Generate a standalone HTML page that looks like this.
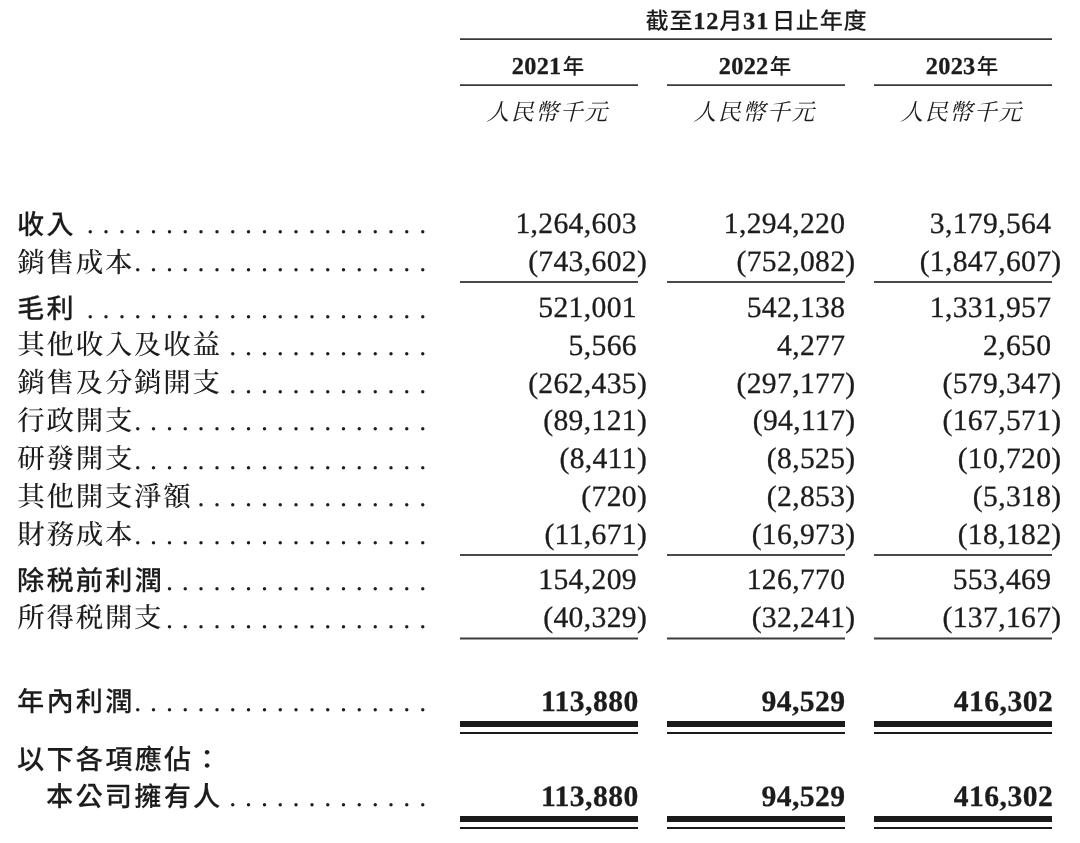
<!DOCTYPE html>
<html lang="zh-Hant">
<head>
<meta charset="utf-8">
<title>綜合損益表</title>
<style>
html,body{margin:0;padding:0;background:#fff;}
body{width:1080px;height:843px;position:relative;overflow:hidden;color:#1c1c1c;font-family:"Liberation Serif","Noto Serif CJK SC",serif;text-rendering:geometricPrecision;}
.t{position:absolute;white-space:nowrap;line-height:1;margin:0;padding:0;}
.lab{font-family:"Liberation Serif","Noto Serif CJK SC",serif;font-size:27.5px;letter-spacing:1.7px;font-weight:500;}
.bl{font-family:"Liberation Sans","Noto Sans CJK TC",sans-serif;font-size:27.2px;letter-spacing:2.2px;font-weight:500;-webkit-text-stroke:0.1px #1c1c1c;}
.num{font-family:"Liberation Serif",serif;font-size:29.6px;letter-spacing:0.35px;text-align:right;-webkit-text-stroke:0.3px #1c1c1c;}
.nb{font-family:"Liberation Serif",serif;font-weight:700;font-size:29.6px;letter-spacing:0.45px;text-align:right;-webkit-text-stroke:0.3px #1c1c1c;}
.dots{font-family:"Liberation Serif",serif;font-size:28px;letter-spacing:8.83px;}
.hr{position:absolute;height:2px;background:linear-gradient(to bottom,#6a6a6a 0,#6a6a6a 1px,#383838 1px,#383838 2px);}
.hr.e{background:#494949;}
.hr.s{height:3px;background:linear-gradient(to bottom,#9a9a9a 0,#9a9a9a 1px,#3c3c3c 1px,#3c3c3c 2px,#a0a0a0 2px,#a0a0a0 3px);}
.dr{position:absolute;background:#1a1a1a;}
.hd{font-family:"Liberation Serif","Noto Sans CJK TC",sans-serif;font-weight:700;-webkit-text-stroke:0.3px #1c1c1c;}
.hd .c,.hd .c1{font-family:"Noto Sans CJK TC",sans-serif;font-weight:500;font-size:21.5px;letter-spacing:2.0px;-webkit-text-stroke:0;margin-left:1.2px;}
.hd .c1{margin-left:0;font-size:23.2px;letter-spacing:0.6px;position:relative;top:0.5px;}
.hd .g{margin-right:2.9px;}
.unit{font-family:"Liberation Serif","Noto Serif CJK SC",serif;font-style:italic;}
</style>
</head>
<body>
<div class="t hd" style="left:645.6px;top:7.55px;font-size:24.3px;letter-spacing:0.9px"><span class="c1">截至</span>12<span class="c1">月</span><span class="g">31</span><span class="c1">日止年度</span></div>
<div class="hr" style="left:460px;top:38px;width:592px"></div>
<div class="t hd" style="left:449px;top:55.45px;width:200px;text-align:center;font-size:24.3px;letter-spacing:0.3px">2021<span class="c">年</span></div>
<div class="hr" style="left:460px;top:84px;width:178px"></div>
<div class="t unit" style="left:447.5px;top:100.74px;width:200px;text-align:center;font-size:23px;letter-spacing:1.5px">人民幣千元</div>
<div class="t hd" style="left:656px;top:55.45px;width:200px;text-align:center;font-size:24.3px;letter-spacing:0.3px">2022<span class="c">年</span></div>
<div class="hr" style="left:667px;top:84px;width:178px"></div>
<div class="t unit" style="left:654.5px;top:100.74px;width:200px;text-align:center;font-size:23px;letter-spacing:1.5px">人民幣千元</div>
<div class="t hd" style="left:863px;top:55.45px;width:200px;text-align:center;font-size:24.3px;letter-spacing:0.3px">2023<span class="c">年</span></div>
<div class="hr" style="left:874px;top:84px;width:178px"></div>
<div class="t unit" style="left:861.5px;top:100.74px;width:200px;text-align:center;font-size:23px;letter-spacing:1.5px">人民幣千元</div>
<div class="t bl" style="left:17.1px;top:211px">收入</div>
<div class="t dots" style="left:86.77px;top:211px">......................</div>
<div class="t num" style="right:443.05px;top:210px">1,264,603</div>
<div class="t num" style="right:234.65px;top:210px">1,294,220</div>
<div class="t num" style="right:28.65px;top:210px">3,179,564</div>
<div class="t lab" style="left:17.3px;top:249px">銷售成本</div>
<div class="t dots" style="left:134.26px;top:249px">...................</div>
<div class="t num" style="right:432.84px;top:248px">(743,602)</div>
<div class="t num" style="right:224.44px;top:248px">(752,082)</div>
<div class="t num" style="right:18.44px;top:248px">(1,847,607)</div>
<div class="t bl" style="left:17.1px;top:295px">毛利</div>
<div class="t dots" style="left:86.77px;top:296px">......................</div>
<div class="t num" style="right:443.05px;top:294px">521,001</div>
<div class="t num" style="right:234.65px;top:294px">542,138</div>
<div class="t num" style="right:28.65px;top:294px">1,331,957</div>
<div class="t lab" style="left:17.3px;top:331px">其他收入及收益</div>
<div class="t dots" style="left:229.24px;top:333px">.............</div>
<div class="t num" style="right:443.05px;top:332px">5,566</div>
<div class="t num" style="right:234.65px;top:332px">4,277</div>
<div class="t num" style="right:28.65px;top:332px">2,650</div>
<div class="t lab" style="left:17.3px;top:369px">銷售及分銷開支</div>
<div class="t dots" style="left:229.24px;top:371px">.............</div>
<div class="t num" style="right:432.84px;top:370px">(262,435)</div>
<div class="t num" style="right:224.44px;top:370px">(297,177)</div>
<div class="t num" style="right:18.44px;top:370px">(579,347)</div>
<div class="t lab" style="left:17.3px;top:407px">行政開支</div>
<div class="t dots" style="left:134.26px;top:408px">...................</div>
<div class="t num" style="right:432.84px;top:407px">(89,121)</div>
<div class="t num" style="right:224.44px;top:407px">(94,117)</div>
<div class="t num" style="right:18.44px;top:407px">(167,571)</div>
<div class="t lab" style="left:17.3px;top:445px">研發開支</div>
<div class="t dots" style="left:134.26px;top:447px">...................</div>
<div class="t num" style="right:432.84px;top:445px">(8,411)</div>
<div class="t num" style="right:224.44px;top:445px">(8,525)</div>
<div class="t num" style="right:18.44px;top:445px">(10,720)</div>
<div class="t lab" style="left:17.3px;top:483px">其他開支淨額</div>
<div class="t dots" style="left:197.58px;top:484px">...............</div>
<div class="t num" style="right:432.84px;top:483px">(720)</div>
<div class="t num" style="right:224.44px;top:483px">(2,853)</div>
<div class="t num" style="right:18.44px;top:483px">(5,318)</div>
<div class="t lab" style="left:17.3px;top:521px">財務成本</div>
<div class="t dots" style="left:134.26px;top:522px">...................</div>
<div class="t num" style="right:432.84px;top:521px">(11,671)</div>
<div class="t num" style="right:224.44px;top:521px">(16,973)</div>
<div class="t num" style="right:18.44px;top:521px">(18,182)</div>
<div class="t bl" style="left:17.1px;top:567px">除税前利潤</div>
<div class="t dots" style="left:165.92px;top:568px">.................</div>
<div class="t num" style="right:443.05px;top:566px">154,209</div>
<div class="t num" style="right:234.65px;top:566px">126,770</div>
<div class="t num" style="right:28.65px;top:566px">553,469</div>
<div class="t lab" style="left:17.3px;top:604px">所得税開支</div>
<div class="t dots" style="left:165.92px;top:606px">.................</div>
<div class="t num" style="right:432.84px;top:604px">(40,329)</div>
<div class="t num" style="right:224.44px;top:604px">(32,241)</div>
<div class="t num" style="right:18.44px;top:604px">(137,167)</div>
<div class="t bl" style="left:17.1px;top:688px">年內利潤</div>
<div class="t dots" style="left:134.26px;top:689px">...................</div>
<div class="t nb" style="right:441.35px;top:688px">113,880</div>
<div class="t nb" style="right:234.45px;top:688px">94,529</div>
<div class="t nb" style="right:26.85px;top:688px">416,302</div>
<div class="t bl" style="left:17.1px;top:746px">以下各項應佔：</div>
<div class="t bl" style="left:46.1px;top:783px">本公司擁有人</div>
<div class="t dots" style="left:229.24px;top:784px">.............</div>
<div class="t nb" style="right:441.35px;top:783px">113,880</div>
<div class="t nb" style="right:234.45px;top:783px">94,529</div>
<div class="t nb" style="right:26.85px;top:783px">416,302</div>
<div class="hr e" style="left:460px;top:281px;width:178px"></div>
<div class="hr e" style="left:667px;top:281px;width:178px"></div>
<div class="hr e" style="left:874px;top:281px;width:178px"></div>
<div class="hr e" style="left:460px;top:554px;width:178px"></div>
<div class="hr e" style="left:667px;top:554px;width:178px"></div>
<div class="hr e" style="left:874px;top:554px;width:178px"></div>
<div class="hr s" style="left:460px;top:637px;width:178px"></div>
<div class="hr s" style="left:667px;top:637px;width:178px"></div>
<div class="hr s" style="left:874px;top:637px;width:178px"></div>
<div class="dr" style="left:460px;top:721px;width:178px;height:6px"></div>
<div class="dr" style="left:460px;top:732px;width:178px;height:2px"></div>
<div class="dr" style="left:667px;top:721px;width:178px;height:6px"></div>
<div class="dr" style="left:667px;top:732px;width:178px;height:2px"></div>
<div class="dr" style="left:874px;top:721px;width:178px;height:6px"></div>
<div class="dr" style="left:874px;top:732px;width:178px;height:2px"></div>
<div class="dr" style="left:460px;top:816px;width:178px;height:6px"></div>
<div class="dr" style="left:460px;top:827px;width:178px;height:2px"></div>
<div class="dr" style="left:667px;top:816px;width:178px;height:6px"></div>
<div class="dr" style="left:667px;top:827px;width:178px;height:2px"></div>
<div class="dr" style="left:874px;top:816px;width:178px;height:6px"></div>
<div class="dr" style="left:874px;top:827px;width:178px;height:2px"></div>
</body>
</html>
